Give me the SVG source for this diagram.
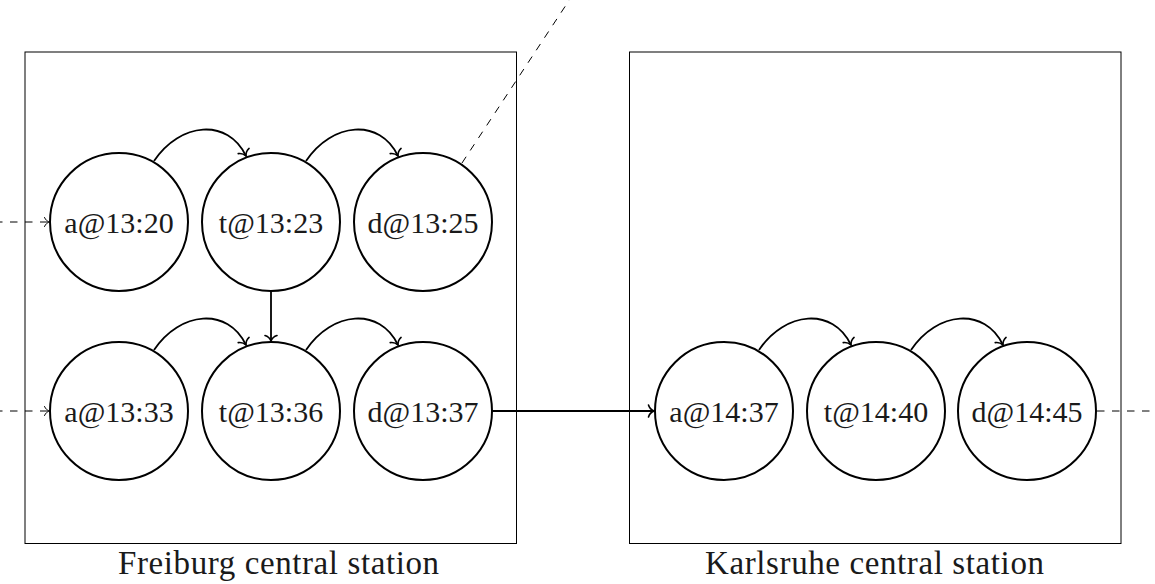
<svg xmlns="http://www.w3.org/2000/svg" width="1155" height="584" viewBox="0 0 1155 584">
<style>
.box{fill:none;stroke:#000;stroke-width:1}
.node circle{fill:#fff;stroke:#000;stroke-width:2}
.node text{font-family:"Liberation Serif","Times New Roman",serif;font-size:30px;text-anchor:middle;fill:#1a1a1a}
.lbl{font-family:"Liberation Serif","Times New Roman",serif;font-size:33px;text-anchor:middle;fill:#1a1a1a}
.edge{fill:none;stroke:#000;stroke-width:1.8;marker-end:url(#arr)}
.dash{fill:none;stroke:#000;stroke-width:1;stroke-dasharray:7.5 7.5}
.dashA{fill:none;stroke:#000;stroke-width:1;stroke-dasharray:7.5 7.5;marker-end:url(#arrT)}
</style>
<defs>
<marker id="arr" markerUnits="userSpaceOnUse" viewBox="-10 -10 20 20" markerWidth="20" markerHeight="20" refX="0" refY="0" orient="auto">
<path d="M-5.5,-6 C-4.5,-2.5 -1.5,-0.6 0,0 C-1.5,0.6 -4.5,2.5 -5.5,6" fill="none" stroke="#000" stroke-width="1.6" stroke-linecap="round"/>
</marker>
<marker id="arrT" markerUnits="userSpaceOnUse" viewBox="-10 -10 20 20" markerWidth="20" markerHeight="20" refX="0" refY="0" orient="auto">
<path d="M-4.5,-4.5 C-3.5,-2 -1.2,-0.5 0,0 C-1.2,0.5 -3.5,2 -4.5,4.5" fill="none" stroke="#000" stroke-width="1" stroke-linecap="round"/>
</marker>
</defs>

<g id="station-freiburg">
<rect class="box" x="25" y="52" width="491.5" height="491.5"/>
<text class="lbl" x="278.5" y="574" textLength="321" lengthAdjust="spacing">Freiburg central station</text>
</g>
<g id="station-karlsruhe">
<rect class="box" x="629.5" y="52" width="491.5" height="491.5"/>
<text class="lbl" x="874.5" y="574" textLength="339" lengthAdjust="spacing">Karlsruhe central station</text>
</g>

<g id="connectors">
<path class="dashA" d="M-5,222 H49"/>
<path class="dashA" d="M-5,411 H49"/>
<path class="dash" d="M462,163 L570,-1"/>
<path class="dash" d="M1097,411 H1155"/>
<path class="edge" d="M154,161 C180,122 228,118 246,156"/>
<path class="edge" d="M306,161 C332,122 380,118 398,156"/>
<path class="edge" d="M271,291 V341"/>
<path class="edge" d="M154,350 C180,311 228,307 246,345"/>
<path class="edge" d="M306,350 C332,311 380,307 398,345"/>
<path class="edge" d="M492,411 H654"/>
<path class="edge" d="M759,350 C785,311 833,307 851,345"/>
<path class="edge" d="M911,350 C937,311 985,307 1003,345"/>
</g>

<g id="n-a1320" class="node"><circle cx="119" cy="222" r="69"/><text x="119" y="233">a@13:20</text></g>
<g id="n-t1323" class="node"><circle cx="271" cy="222" r="69"/><text x="271" y="233">t@13:23</text></g>
<g id="n-d1325" class="node"><circle cx="423" cy="222" r="69"/><text x="423" y="233">d@13:25</text></g>
<g id="n-a1333" class="node"><circle cx="119" cy="411" r="69"/><text x="119" y="422">a@13:33</text></g>
<g id="n-t1336" class="node"><circle cx="271" cy="411" r="69"/><text x="271" y="422">t@13:36</text></g>
<g id="n-d1337" class="node"><circle cx="423" cy="411" r="69"/><text x="423" y="422">d@13:37</text></g>
<g id="n-a1437" class="node"><circle cx="724" cy="411" r="69"/><text x="724" y="422">a@14:37</text></g>
<g id="n-t1440" class="node"><circle cx="876" cy="411" r="69"/><text x="876" y="422">t@14:40</text></g>
<g id="n-d1445" class="node"><circle cx="1027" cy="411" r="69"/><text x="1027" y="422">d@14:45</text></g>
</svg>
